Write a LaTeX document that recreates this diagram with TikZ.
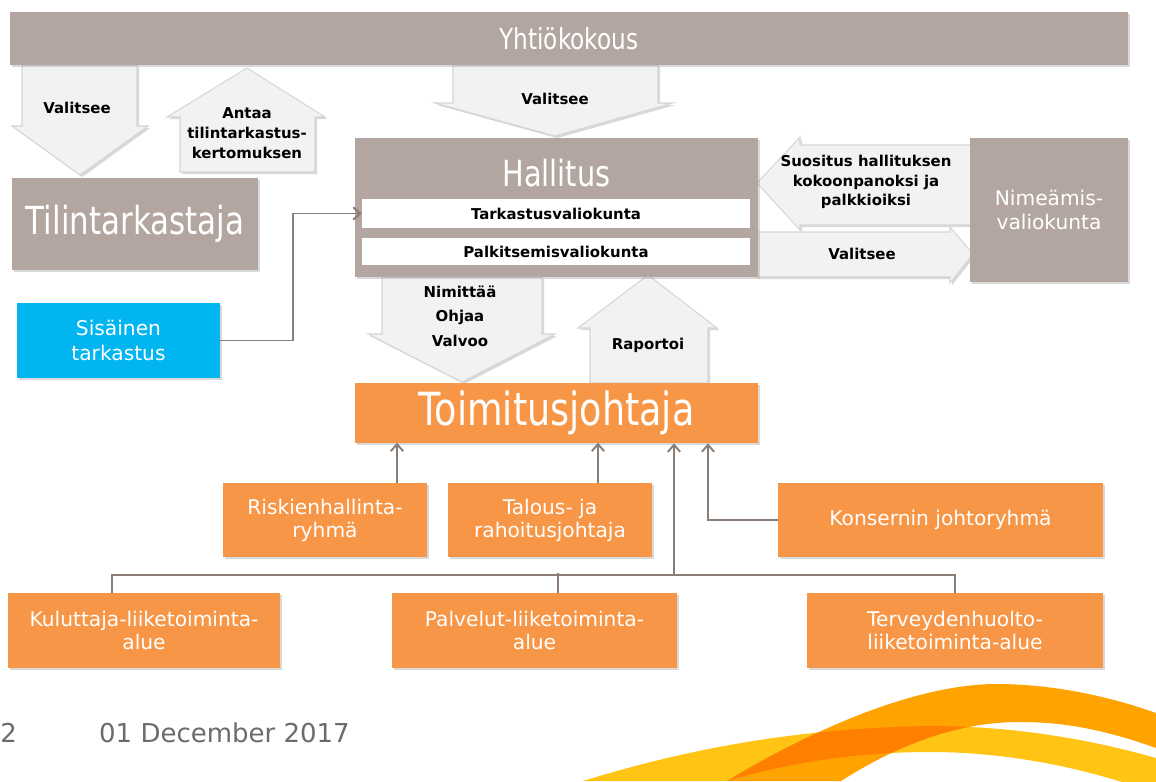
\documentclass[tikz,border=0pt]{standalone}
\usepackage{fontspec}
\setmainfont{DejaVu Sans}
\newfontfamily\titlefont[FakeStretch=0.8]{DejaVu Sans}
\usetikzlibrary{positioning,calc,shadows,arrows.meta}
\definecolor{taupe}{HTML}{B3A6A1}
\definecolor{orgbox}{HTML}{F79646}
\definecolor{cyanbox}{HTML}{00B5F0}
\definecolor{arrfill}{HTML}{F2F2F2}
\definecolor{arredge}{HTML}{D6D6D6}
\definecolor{conn}{HTML}{8A7D76}
\definecolor{swA}{HTML}{FFA300}
\definecolor{swB}{HTML}{FFC414}
\definecolor{swC}{HTML}{FF7F00}
\definecolor{datecol}{HTML}{6B6B6B}
\newcommand{\swyel}{(583,781) .. controls (690,748) and (800,728) .. (930,726) .. controls (1030,726) and (1110,745) .. (1156,758) -- (1160,795) .. controls (1080,765) and (1000,752) .. (930,752) .. controls (850,752) and (780,765) .. (727,781) -- cycle}
\newcommand{\sworg}{(727,781) .. controls (820,725) and (920,684) .. (997,684) .. controls (1060,684) and (1120,700) .. (1156,713) -- (1156,748) .. controls (1100,728) and (1060,722) .. (1020,722) .. controls (950,722) and (890,750) .. (841,781) -- cycle}
\begin{document}
\begin{tikzpicture}[x=0.02cm,y=-0.02cm,
    shad/.style={drop shadow={shadow xshift=1.2pt,shadow yshift=-1.2pt,opacity=0.3}},
    gbox/.style={fill=taupe,shad,text=white,inner sep=0pt},
    obox/.style={fill=orgbox,shad,text=white,align=center,inner sep=0pt,minimum height=1.48cm,font=\fontsize{11.5}{13}\selectfont},
    band/.style={fill=white,minimum width=7.76cm,inner sep=0pt,font=\fontsize{8.5}{10}\selectfont\bfseries},
    barrow/.style={fill=arrfill,draw=arredge,line width=0.6pt,shad},
    lbl/.style={align=center,font=\fontsize{8.5}{11.3}\selectfont\bfseries},
    conline/.style={draw=conn,line width=1.1pt},
    arr/.style={conline,-{Straight Barb[length=4pt,width=7pt]}}]
    \useasboundingbox (0,0) rectangle (1156,781);
    \fill[swB] \swyel;
    \fill[swA] \sworg;
    \begin{scope}
        \clip \swyel;
        \fill[swC] \sworg;
    \end{scope}
    \draw[barrow] (22,65) -- (137,65) -- (137,126) -- (148,126) -- (80,175) -- (12,126) -- (22,126) -- cycle;
    \node[lbl] (v1) at (77,108) {Valitsee};
    \draw[barrow] (247,68) -- (325,117) -- (315,117) -- (315,172) -- (180,172) -- (180,117) -- (167,117) -- cycle;
    \node[lbl] (ant) at (247,133) {Antaa\\tilintarkastus-\\kertomuksen};
    \draw[barrow] (453,65) -- (658,65) -- (658,103) -- (673,103) -- (555,136) -- (435,103) -- (453,103) -- cycle;
    \node[lbl] (v2) at (555,99) {Valitsee};
    \draw[barrow] (975,145) -- (800,145) -- (800,137) -- (757,183) -- (800,230) -- (800,225) -- (975,225) -- cycle;
    \node[lbl] (suo) at (866,182) {Suositus hallituksen\\kokoonpanoksi ja\\palkkioiksi};
    \draw[barrow] (757,232) -- (950,232) -- (950,227) -- (973,254) -- (950,283) -- (950,277) -- (757,277) -- cycle;
    \node[lbl] (v3) at (862,254) {Valitsee};
    \draw[barrow] (382,277) -- (542,277) -- (542,334) -- (555,334) -- (462,382) -- (368,334) -- (382,334) -- cycle;
    \node[lbl,font=\fontsize{8.5}{14}\selectfont\bfseries] (nim) at (460,316) {Nimittää\\Ohjaa\\Valvoo};
    \draw[barrow] (648,275) -- (717,328) -- (708,328) -- (708,383) -- (590,383) -- (590,328) -- (578,328) -- cycle;
    \node[lbl] (rap) at (648,345) {Raportoi};
    \node[gbox,minimum width=22.36cm,minimum height=1.06cm,font=\titlefont\fontsize{16.5}{19}\selectfont] (yht) at (569,38.5) {Yhtiökokous};
    \node[gbox,minimum width=4.92cm,minimum height=1.84cm,font=\titlefont\fontsize{22}{26}\selectfont] (tilin) at (135,224) {Tilintarkastaja};
    \node[gbox,minimum width=8.06cm,minimum height=2.78cm] (hall) at (556.5,207.5) {};
    \node[text=white,font=\titlefont\fontsize{20.5}{24}\selectfont] (hallt) at (556.5,173) {Hallitus};
    \node[band,minimum height=0.58cm] (tark) at (556,213.5) {Tarkastusvaliokunta};
    \node[band,minimum height=0.54cm] (palk) at (556,251.5) {Palkitsemisvaliokunta};
    \node[gbox,minimum width=3.16cm,minimum height=2.88cm,align=center,font=\fontsize{11.5}{14}\selectfont] (nime) at (1049,210) {Nimeämis-\\valiokunta};
    \node[gbox,fill=cyanbox,minimum width=4.06cm,minimum height=1.5cm,align=center,font=\fontsize{11.5}{14}\selectfont] (sis) at (118.5,340.5) {Sisäinen\\tarkastus};
    \node[obox,minimum width=8.06cm,minimum height=1.2cm,font=\titlefont\fontsize{26}{30}\selectfont] (tj) at (556.5,413) {Toimitusjohtaja};
    \node[obox,minimum width=4.08cm] (risk) at (325,520) {Riskienhallinta-\\ryhmä};
    \node[obox,minimum width=4.08cm] (tal) at (550,520) {Talous- ja\\rahoitusjohtaja};
    \node[obox,minimum width=6.5cm] (kons) at (940.5,520) {Konsernin johtoryhmä};
    \node[obox,minimum width=5.44cm,minimum height=1.5cm] (kul) at (144,630.5) {Kuluttaja-liiketoiminta-\\alue};
    \node[obox,minimum width=5.7cm,minimum height=1.5cm] (pal) at (534.5,630.5) {Palvelut-liiketoiminta-\\alue};
    \node[obox,minimum width=5.92cm,minimum height=1.5cm] (ter) at (955,630.5) {Terveydenhuolto-\\liiketoiminta-alue};
    \draw[arr] (sis.east) -- ++(73,0) |- (tark.west);
    \draw[arr] (risk.north) ++(72,0) -- ++(0,-40);
    \draw[arr] (tal.north) ++(48,0) -- ++(0,-40);
    \draw[arr] (kons.west) -| ($(tj.south)+(151.5,0)$);
    \coordinate (busL) at (112,575);
    \coordinate (busR) at (955,575);
    \coordinate (tjup) at ($(tj.south)+(117.5,0)$);
    \draw[conline] (kul.north -| busL) |- (busR) -- (ter.north);
    \draw[conline] (pal.north) ++(23.5,0) -- ++(0,-20);
    \draw[arr] (tjup |- busL) -- (tjup);
    \node[text=datecol,font=\fontsize{14.8}{17}\selectfont,anchor=west] (date) at (93,733) {01 December 2017};
    \node[text=datecol,font=\fontsize{14.8}{17}\selectfont,anchor=west,inner sep=0pt] (pg) at (0,733) {2};
\end{tikzpicture}
\end{document}
